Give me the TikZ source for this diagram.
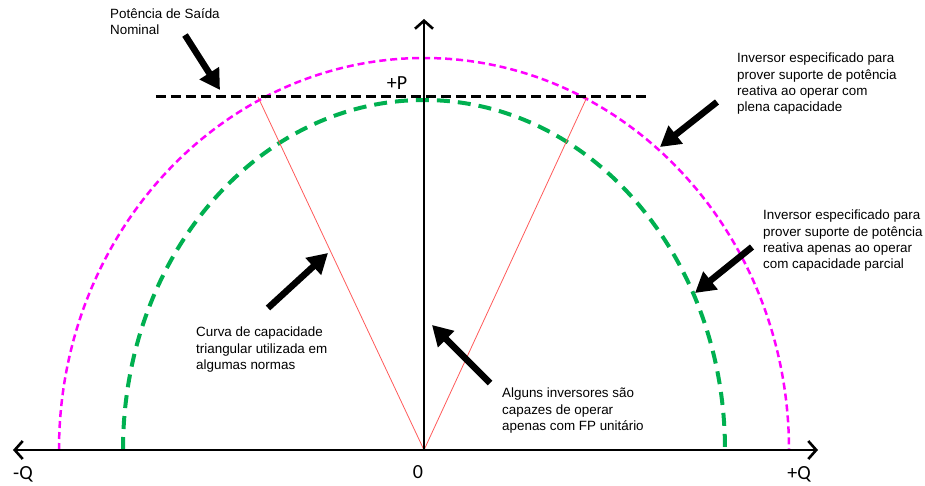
\documentclass[tikz,border=0pt]{standalone}
\usepackage{fontspec}
\setmainfont{Liberation Sans}
\newfontfamily\axisfont{Carlito}
\usepackage{xcolor}
\usetikzlibrary{arrows.meta}
\definecolor{fullmag}{RGB}{255,0,255}
\definecolor{partgreen}{RGB}{0,176,80}
\definecolor{trired}{RGB}{255,90,90}

\begin{document}
\begin{tikzpicture}[
  x=1pt, y=1pt,
  axisline/.style={line width=2.6pt},
  axtip/.tip={Straight Barb[length=8pt,width=18pt]},
  axlabel/.style={font=\axisfont\fontsize{20}{22}\selectfont, inner sep=0pt},
  note/.style={align=left, anchor=north west, inner sep=0pt, font=\fontsize{13.4}{16.2}\selectfont},
  pointer/.style={line width=6.5pt, -{Triangle[length=20pt,width=22pt]}},
]
\useasboundingbox (-424,-35) rectangle (501,450);

% ---------------- axes ----------------
\coordinate (O) at (0,0);
\coordinate (Qneg) at (-411,0);
\coordinate (Qpos) at (394,0);
\coordinate (Ptop) at (0,431);

% ---------------- capability curves ----------------
\draw[fullmag, line width=2.5pt, dash pattern=on 7pt off 4pt]
  (-365,0) arc[start angle=180, end angle=0, x radius=365pt, y radius=392pt];
\draw[partgreen, line width=4pt, dash pattern=on 13pt off 8pt]
  (-301,0) arc[start angle=180, end angle=0, x radius=301pt, y radius=350pt];

% nominal output power
\coordinate (nomL) at (-268,353);
\coordinate (nomR) at (223,353);
\draw[line width=3pt, dash pattern=on 10pt off 5pt] (nomL) -- (nomR);

% triangular curve
\coordinate (triL) at (-166,353);
\coordinate (triR) at (163,353);
\draw[trired, line width=0.8pt] (triL) -- (O) -- (triR);

\draw[axisline, axtip-axtip] (Qneg) -- (Qpos);
\draw[axisline, -axtip] (O) -- (Ptop);

\node[axlabel] (lblP) at (-27,367) {+P};
\node[axlabel] (lblQneg) at (-401,-24) {-Q};
\node[axlabel] (lblQpos) at (375,-24) {+Q};
\node[axlabel] (lblzero) at (-6,-22) {0};

% ---------------- notes ----------------
\node[note] (notenom) at (-314,442) {Potência de Saída\\Nominal};
\node[note] (notefull) at (313,397) {Inversor especificado para\\prover suporte de potência\\reativa ao operar com\\plena capacidade};
\node[note] (notepart) at (339,240) {Inversor especificado para\\prover suporte de potência\\reativa apenas ao operar\\com capacidade parcial};
\node[note] (notetri) at (-228,123) {Curva de capacidade\\triangular utilizada em\\algumas normas};
\node[note] (noteunit) at (78,62) {Alguns inversores são\\capazes de operar\\apenas com FP unitário};

% ---------------- pointers ----------------
\coordinate (nomT) at (-239,415);  \coordinate (nomH) at (-204,360);
\coordinate (fullT) at (293,348);  \coordinate (fullH) at (236,303);
\coordinate (partT) at (328,203);  \coordinate (partH) at (271,157);
\coordinate (triT) at (-156,142);  \coordinate (triH) at (-96,197);
\coordinate (unitT) at (66,67);    \coordinate (unitH) at (8,125);

\foreach \t/\h in {nomT/nomH, fullT/fullH, partT/partH, triT/triH, unitT/unitH}
  \draw[pointer] (\t) -- (\h);
\end{tikzpicture}
\end{document}
